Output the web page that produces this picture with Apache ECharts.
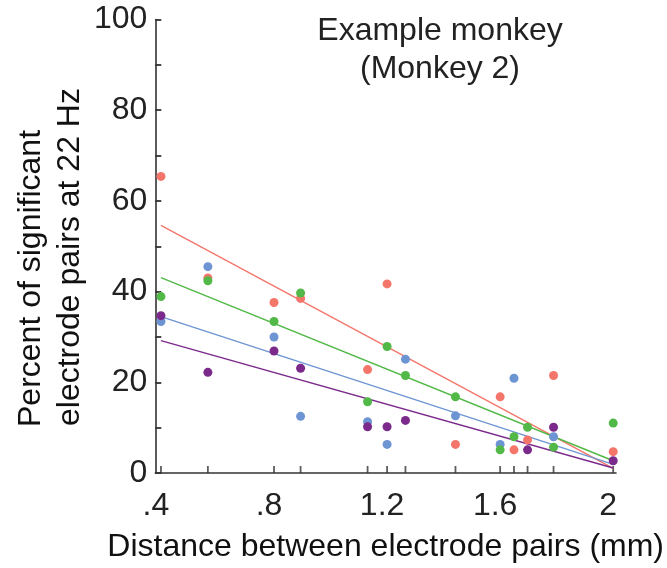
<!DOCTYPE html>
<html>
<head>
<meta charset="utf-8">
<script src="https://cdn.jsdelivr.net/npm/echarts@6/dist/echarts.min.js"></script>
<style>html,body{margin:0;padding:0;background:#fff}#c{width:667px;height:568px}</style>
</head>
<body>
<div id="c"></div>
<script>
// distinct electrode distances (mm) -> rug ticks on x axis
const distances = [0.4, 0.566, 0.8, 0.894, 1.131, 1.2, 1.265, 1.442, 1.6, 1.649, 1.697, 1.789, 2.0];
const xTickLabels = {40: '.4', 80: '.8', 120: '1.2', 160: '1.6', 200: '2'};
const yTickLabels = [0, 20, 40, 60, 80, 100];

const redPts = [[0.4,65.4],[0.566,43.0],[0.8,37.6],[0.894,38.5],[1.131,22.8],[1.2,41.7],[1.442,6.3],[1.6,16.8],[1.649,5.1],[1.697,7.3],[1.789,21.5],[2.0,4.7]];
const bluePts = [[0.4,33.4],[0.566,45.5],[0.8,30.0],[0.894,12.5],[1.131,11.3],[1.2,6.3],[1.265,25.1],[1.442,12.6],[1.6,6.3],[1.649,20.9],[1.789,8.0]];
const greenPts = [[0.4,38.9],[0.566,42.4],[0.8,33.4],[0.894,39.7],[1.131,15.7],[1.2,27.9],[1.265,21.5],[1.442,16.8],[1.6,5.1],[1.649,8.0],[1.697,10.1],[1.789,5.7],[2.0,11.0]];
const purplePts = [[0.4,34.7],[0.566,22.2],[0.8,26.9],[0.894,23.1],[1.131,10.2],[1.2,10.2],[1.265,11.6],[1.697,5.1],[1.789,10.1],[2.0,2.7]];

// fitted regression lines: [y at x=0.4, y at x=2.0]
const fitX = [0.4, 2.0];
const redFit = [54.6, 1.0];
const greenFit = [43.1, 2.7];
const blueFit = [34.5, 1.9];
const purpleFit = [29.2, 1.1];

const colors = {red: '#F4766B', blue: '#6E95D3', green: '#52B847', purple: '#7B2A8C'};
const FONT = "'Liberation Sans', Arial, sans-serif";
const axisColor = '#333';

function lineSeries(fit, color) {
  return {
    type: 'line', data: fitX.map((x, i) => [x, fit[i]]), symbol: 'none', silent: true,
    lineStyle: {color: color, width: 1.4}, z: 2
  };
}
function dotSeries(pts, color) {
  return {
    type: 'scatter', data: pts, symbol: 'circle', symbolSize: 9, silent: true,
    itemStyle: {color: color, opacity: 1}, z: 3
  };
}

const chart = echarts.init(document.getElementById('c'), null, {renderer: 'canvas'});
chart.setOption({
  animation: false,
  backgroundColor: '#fff',
  grid: {left: 155.3, right: 50.4, top: 19.5, bottom: 86, containLabel: false},
  xAxis: {
    type: 'value', min: 0.38, max: 2.01, interval: 0.02,
    name: 'Distance between electrode pairs (mm)', nameLocation: 'middle', nameGap: 58,
    nameTextStyle: {fontFamily: FONT, fontSize: 32, color: '#111'},
    axisLine: {show: true, lineStyle: {color: axisColor, width: 1.6}},
    axisTick: {show: false},
    splitLine: {show: false},
    axisLabel: {
      fontFamily: FONT, fontSize: 32, color: '#222', margin: 17, padding: [0, 10, 0, 0],
      formatter: function (v) { const r = Math.round(v * 100); return xTickLabels[r] || ''; }
    }
  },
  yAxis: {
    type: 'value', min: 0, max: 100, interval: 10,
    axisLine: {show: true, lineStyle: {color: axisColor, width: 1.6}},
    axisTick: {show: true, inside: true, length: 6, lineStyle: {color: axisColor, width: 1.8}},
    splitLine: {show: false},
    axisLabel: {
      fontFamily: FONT, fontSize: 32, color: '#222', margin: 8, padding: [4, 0, 0, 0],
      formatter: function (v) { return yTickLabels.indexOf(Math.round(v)) >= 0 ? String(Math.round(v)) : ''; }
    }
  },
  graphic: [
    {type: 'text', x: 440, y: 15, style: {text: 'Example monkey', font: '32px ' + FONT, fill: '#222', textAlign: 'center', textVerticalAlign: 'top'}},
    {type: 'text', x: 440, y: 53, style: {text: '(Monkey 2)', font: '32px ' + FONT, fill: '#222', textAlign: 'center', textVerticalAlign: 'top'}},
    {type: 'text', x: 31, y: 427, rotation: Math.PI / 2, style: {text: 'Percent of significant', font: '32px ' + FONT, fill: '#111', textAlign: 'left', textVerticalAlign: 'middle'}},
    {type: 'text', x: 70, y: 426, rotation: Math.PI / 2, style: {text: 'electrode pairs at 22 Hz', font: '32px ' + FONT, fill: '#111', textAlign: 'left', textVerticalAlign: 'middle'}}
  ],
  series: [
    {
      type: 'scatter', data: distances.map(d => [d, 0]), symbol: 'rect', symbolSize: [1.8, 7],
      symbolOffset: [0, -3.5], silent: true, clip: false, itemStyle: {color: axisColor}, z: 1
    },
    lineSeries(redFit, colors.red),
    lineSeries(greenFit, colors.green),
    lineSeries(blueFit, colors.blue),
    lineSeries(purpleFit, colors.purple),
    dotSeries(redPts, colors.red),
    dotSeries(bluePts, colors.blue),
    dotSeries(greenPts, colors.green),
    dotSeries(purplePts, colors.purple)
  ]
});
</script>
</body>
</html>
